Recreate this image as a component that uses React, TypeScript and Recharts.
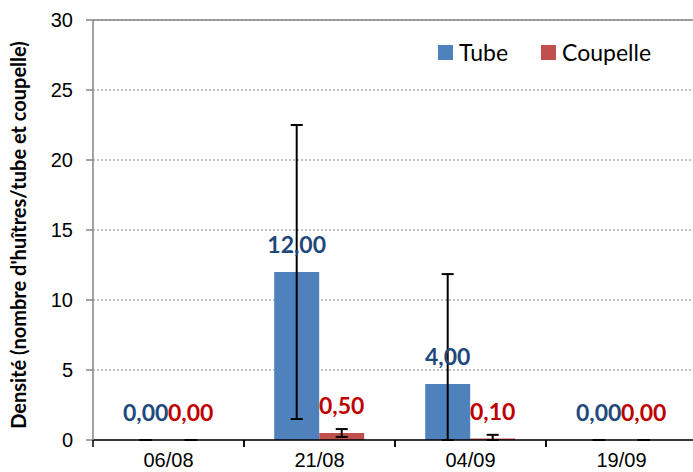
import { BarChart, Bar, XAxis, YAxis, CartesianGrid, ErrorBar, LabelList, ReferenceLine } from "recharts";

const categories = ["06/08", "21/08", "04/09", "19/09"];
const tubeValues = [0, 12, 4, 0];
const coupelleValues = [0, 0.5, 0.1, 0];
// écarts [bas, haut] (coupés à 0)
const tubeErrors = [[0, 0], [10.5, 10.5], [4, 7.85], [0, 0]];
const coupelleErrors = [[0, 0], [0.28, 0.28], [0.1, 0.27], [0, 0]];
const yTicks = [0, 5, 10, 15, 20, 25, 30];
const seriesNames = ["Tube", "Coupelle"];

const data = categories.map((date, i) => ({
  date,
  tube: tubeValues[i],
  coupelle: coupelleValues[i],
  tubeErr: tubeErrors[i],
  coupelleErr: coupelleErrors[i],
}));

const BLUE = "#4F81BD";
const RED = "#C0504D";
const CHART_W = 700;
const CHART_H = 472;
const Y_AXIS_W = 93;
const MARGIN_RIGHT = 3;
const HALF_BAND = (CHART_W - Y_AXIS_W - MARGIN_RIGHT) / categories.length / 2;

const fmt = (v: number) => v.toFixed(2).replace(".", ",");

function DateTick({ x, y, payload }: any) {
  return (
    <g>
      <line x1={x - HALF_BAND} x2={x - HALF_BAND} y1={y} y2={y + 7} stroke="#000" strokeWidth={1.5} />
      <line x1={x + HALF_BAND} x2={x + HALF_BAND} y1={y} y2={y + 7} stroke="#000" strokeWidth={1.5} />
      <text x={x} y={y + 27} textAnchor="middle" fontSize={20} fontFamily="Liberation Sans, Arial" fill="#000">
        {payload.value}
      </text>
    </g>
  );
}

function YLabel({ viewBox }: any) {
  const cy = viewBox.y + viewBox.height / 2 + 5;
  return (
    <text
      x={18}
      y={cy}
      transform={`rotate(-90 18 ${cy})`}
      textAnchor="middle"
      dominantBaseline="central"
      fontSize={20}
      fontWeight="bold"
      fontFamily="Lato"
      fill="#000"
    >
      Densité (nombre d'huîtres/tube et coupelle)
    </text>
  );
}

function LegendBox() {
  const colors = [BLUE, RED];
  return (
    <div
      style={{
        position: "absolute",
        left: 438,
        top: 38,
        display: "flex",
        alignItems: "center",
        fontFamily: "Lato",
        fontSize: 23,
        lineHeight: "28px",
        color: "#000",
      }}
    >
      {seriesNames.map((name, i) => (
        <div key={name} style={{ display: "flex", alignItems: "center", marginRight: 33 }}>
          <span style={{ width: 15, height: 15, background: colors[i], marginRight: 6, display: "inline-block" }} />
          <span>{name}</span>
        </div>
      ))}
    </div>
  );
}

export default function App() {
  return (
    <div style={{ position: "fixed", left: 0, top: 0, width: 693, height: 472, overflow: "hidden", background: "#fff" }}>
      <BarChart
        width={CHART_W}
        height={CHART_H}
        data={data}
        margin={{ top: 20, right: MARGIN_RIGHT, bottom: 0, left: 0 }}
        barGap={0}
        barCategoryGap="20%"
      >
        <CartesianGrid vertical={false} stroke="#868686" strokeDasharray="2 2" />
        <ReferenceLine y={30} stroke="#868686" strokeWidth={1.5} />
        <XAxis
          dataKey="date"
          height={32}
          axisLine={{ stroke: "#000", strokeWidth: 1.5 }}
          tickLine={false}
          tickSize={0}
          tickMargin={0}
          tick={<DateTick />}
          interval={0}
        />
        <YAxis
          width={Y_AXIS_W}
          domain={[0, 30]}
          ticks={yTicks}
          interval={0}
          axisLine={{ stroke: "#868686", strokeWidth: 1.5 }}
          tickLine={{ stroke: "#868686", strokeWidth: 1.5 }}
          tickSize={7}
          tickMargin={13}
          tick={{ fontSize: 20, fontFamily: "Liberation Sans, Arial", fill: "#000" }}
          label={<YLabel />}
        />
        <Bar dataKey="tube" name={seriesNames[0]} fill={BLUE} minPointSize={0.01} isAnimationActive={false}>
          <ErrorBar dataKey="tubeErr" width={6} stroke="#000" strokeWidth={2} direction="y" />
          <LabelList
            dataKey="tube"
            position="top"
            offset={19}
            formatter={(v: any) => fmt(Number(v))}
            style={{ fontFamily: "Lato", fontSize: 23, fontWeight: "bold", fill: "#1F497D" }}
          />
        </Bar>
        <Bar dataKey="coupelle" name={seriesNames[1]} fill={RED} minPointSize={0.01} isAnimationActive={false}>
          <ErrorBar dataKey="coupelleErr" width={6} stroke="#000" strokeWidth={2} direction="y" />
          <LabelList
            dataKey="coupelle"
            position="top"
            offset={19}
            formatter={(v: any) => fmt(Number(v))}
            style={{ fontFamily: "Lato", fontSize: 23, fontWeight: "bold", fill: "#C00000" }}
          />
        </Bar>
      </BarChart>
      <LegendBox />
    </div>
  );
}
